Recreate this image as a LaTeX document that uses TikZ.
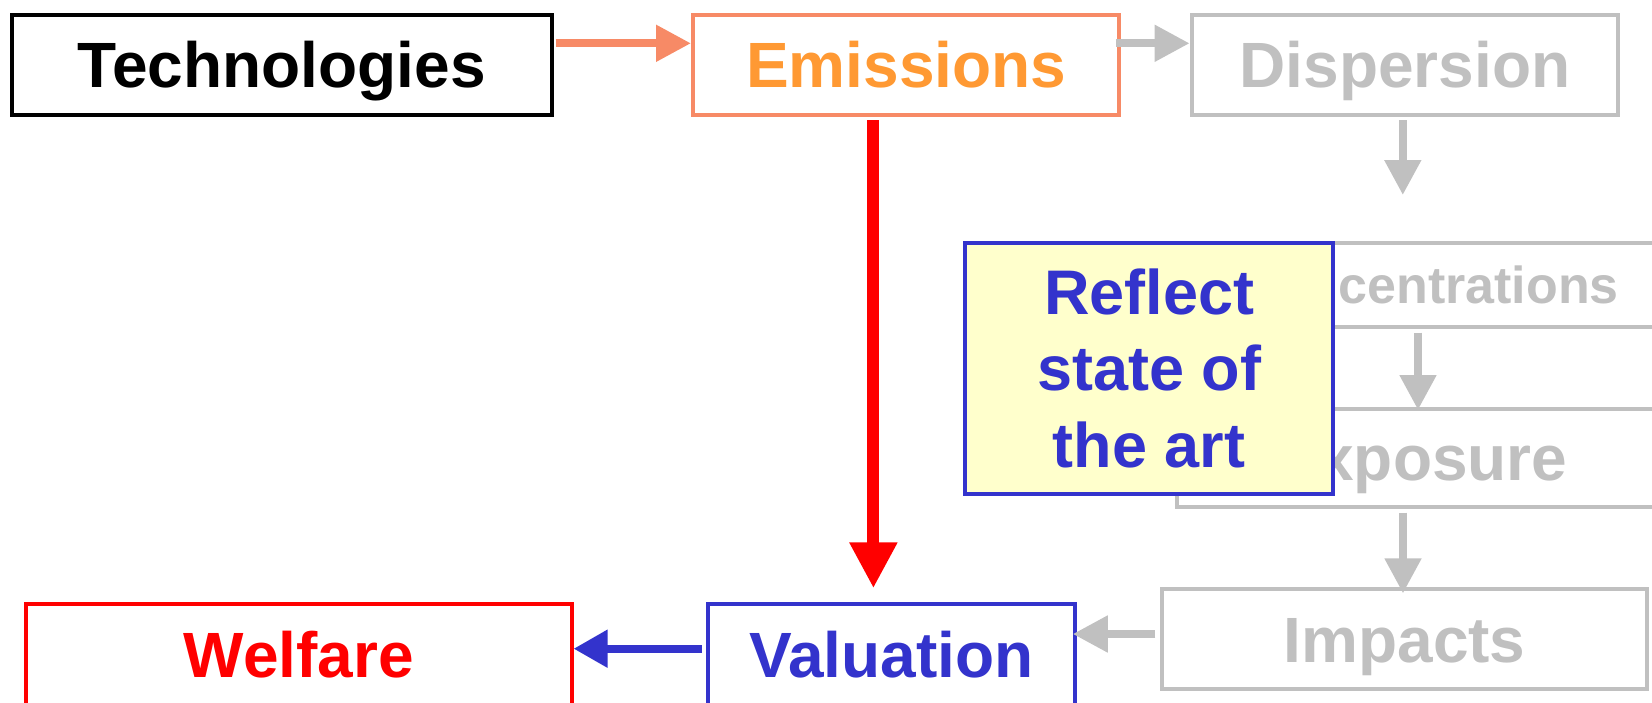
\documentclass[tikz,border=0pt]{standalone}
\usepackage{fontspec}
\setmainfont{Liberation Sans}
\usetikzlibrary{arrows.meta,calc}

\definecolor{salmon}{HTML}{F78A66}
\definecolor{amber}{HTML}{FF9933}
\definecolor{ltgray}{HTML}{C0C0C0}
\definecolor{indigo}{HTML}{3333CC}
\definecolor{cream}{HTML}{FFFFCC}

\begin{document}
\begin{tikzpicture}[x=1pt,y=-1pt,
  box/.style={draw, line width=4pt, inner sep=0pt,
    text height=45.8pt, text depth=0pt,
    font=\fontsize{64}{77}\selectfont\bfseries},
  greybox/.style={box, draw=ltgray, text=ltgray},
  flow/.style={line width=8pt, -{Triangle[width=35pt,length=35pt]}},
  notebox/.style={draw=indigo, fill=cream, line width=4pt, inner sep=0pt,
    align=center, text=indigo,
    font=\fontsize{63}{76.7}\selectfont\bfseries}]

\useasboundingbox (0,0) rectangle (1652,702);
\clip (0,0) rectangle (1652,702);

% top row
\node[box, draw=black, minimum width=539.8pt, minimum height=100pt]
  (tech) at (281.7,64.7) {Technologies};
\node[box, draw=salmon, text=amber, minimum width=426.4pt, minimum height=100pt]
  (emis) at (906.2,64.7) {Emissions};
\node[greybox, minimum width=426.8pt, minimum height=100pt]
  (disp) at (1405,64.7) {Dispersion};

% impact pathway column
\node[greybox, minimum width=480pt, minimum height=84.6pt,
  font=\fontsize{52}{62}\selectfont\bfseries, text height=37.2pt]
  (conc) at (1428,285) {Concentrations};
\node[greybox, minimum width=489.6pt, minimum height=97.2pt]
  (expo) at (1421.5,457.9) {Exposure};
\node[greybox, minimum width=484.5pt, minimum height=99.7pt]
  (imp) at (1404.6,639.2) {Impacts};

% bottom row
\node[box, draw=indigo, text=indigo, minimum width=366.7pt, minimum height=101.4pt]
  (val) at (891.4,655) {Valuation};
\node[box, draw=red, text=red, minimum width=545.1pt, minimum height=102.6pt]
  (welf) at (299,655) {Welfare};

% connectors
\coordinate (te) at ($(tech.east)+(2,-21.4)$);
\draw[flow, salmon] (te) -- (te -| emis.west);

\coordinate (ed) at ($(emis.east)+(-5.6,-21.4)$);
\draw[flow, ltgray] (ed) -- (ed -| disp.west);

\coordinate (dc) at ($(disp.south)+(-2.2,3.3)$);
\coordinate (dctip) at ($(dc)+(0,75)$);
\draw[flow, ltgray] (dc) -- (dctip);

\coordinate (ce) at ($(conc.south)+(-10,3.4)$);
\draw[flow, ltgray] (ce) -- ($(ce |- expo.north)+(0,2.7)$);

\coordinate (ei) at ($(expo.south)+(-18.5,4.2)$);
\draw[flow, ltgray] (ei) -- ($(ei |- imp.north)+(0,6)$);

\coordinate (iv) at ($(imp.west)+(-5,-5.2)$);
\draw[flow, ltgray] (iv) -- ($(iv -| val.east)+(-4,0)$);

\coordinate (vw) at ($(val.west)+(-4.3,-6.3)$);
\draw[line width=8pt, indigo, -{Triangle[width=36pt,length=34pt]}]
  (vw) -- (vw -| welf.east);

\coordinate (ev) at ($(emis.south)+(-32.8,3.3)$);
\draw[line width=12pt, red, -{Triangle[width=45pt,length=46pt]}]
  (ev) -- ($(ev |- val.north)+(0,-14)$);

% remark box laid over the pathway
\node[notebox, minimum width=367.6pt, minimum height=251.3pt]
  (note) at (1149.2,368.4) {Reflect\\state of\\the art};

\end{tikzpicture}
\end{document}
